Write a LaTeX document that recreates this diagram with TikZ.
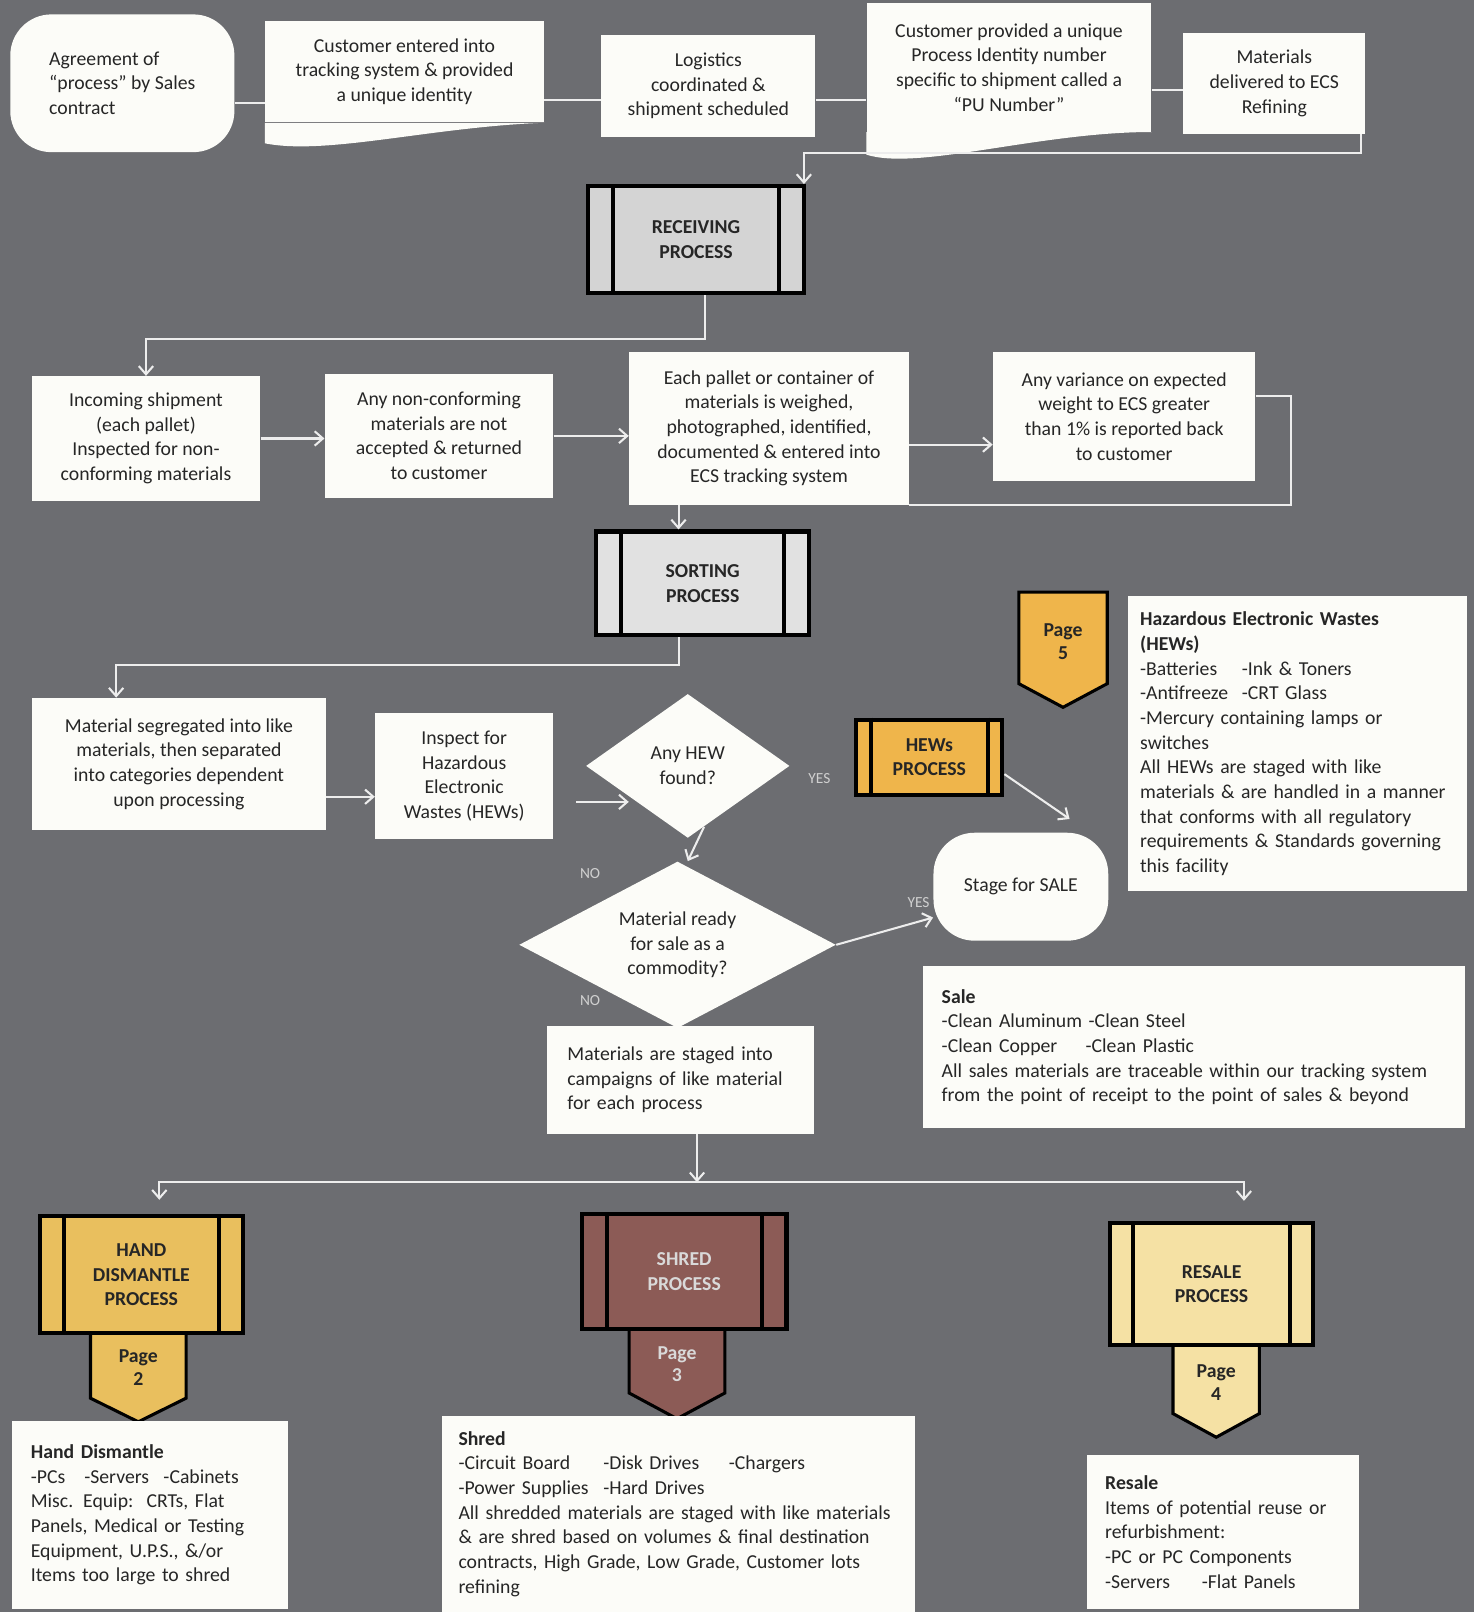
\documentclass[tikz,border=0pt]{standalone}
\usepackage{fontspec}
\setmainfont{Carlito}
\usetikzlibrary{arrows.meta,shapes.geometric}
\definecolor{bggray}{HTML}{6C6D71}
\definecolor{boxwhite}{HTML}{FCFCF8}
\definecolor{recvgray}{HTML}{D4D4D4}
\definecolor{sortgray}{HTML}{E1E1E1}
\definecolor{hewsorange}{HTML}{EFB54B}
\definecolor{handgold}{HTML}{E9BF5E}
\definecolor{shredbrown}{HTML}{8C5B56}
\definecolor{resaleyellow}{HTML}{F5E1A4}
\definecolor{linewhite}{HTML}{EDEDED}
\definecolor{answergray}{HTML}{D0D0D0}

\begin{document}
\begin{tikzpicture}[x=0.5pt,y=-0.5pt,
    >={Straight Barb[length=4pt,width=7pt]},
    every node/.style={font=\fontsize{9.6}{12}\selectfont, text=black!85},
    box/.style={fill=boxwhite, inner sep=0pt, align=center},
    terminal/.style={box, rounded corners=20pt},
    textbox/.style={fill=boxwhite, inner ysep=0pt, inner xsep=9pt, align=left, execute at begin node={\hyphenpenalty=10000\relax}},
    decision/.style={diamond, fill=boxwhite, inner sep=0pt, align=center},
    process/.style={draw=black, line width=2pt, inner sep=0pt, align=center, font=\fontsize{9.6}{12}\selectfont\bfseries},
    procline/.style={line width=2pt},
    pagebox/.style={draw=black, line width=1.5pt},
    pagetext/.style={align=center, font=\fontsize{9.6}{11}\selectfont\bfseries},
    link/.style={draw=linewhite, line width=1pt},
    answer/.style={text=answergray, font=\fontsize{7.5}{9}\selectfont}]

        \useasboundingbox (0,0) rectangle (1434,1568);
        \fill[bggray] (0,0) rectangle (1434,1568);

        \node[terminal, align=left, minimum width=109pt, minimum height=67pt] (agreement) at (119,81) {Agreement of\\“process” by Sales\\contract};
        \node[box, minimum width=135.5pt, minimum height=49.5pt] (entered) at (393.5,69.5) {Customer entered into\\tracking system \& provided\\a unique identity};
        \fill[boxwhite] (entered.south west) -- ++(0,20) .. controls +(60,12) and +(-110,4) .. (entered.south east) -- cycle;
        \node[box, minimum width=104pt, minimum height=49.5pt] (logistics) at (689,83.5) {Logistics\\coordinated \&\\shipment scheduled};
        \node[box, minimum width=138.5pt, minimum height=62.5pt] (puNumber) at (981.5,65.5) {Customer provided a unique\\Process Identity number\\specific to shipment called a\\“PU Number”};
        \fill[boxwhite] (puNumber.south west) -- ++(0,22) .. controls +(50,16) and +(-110,0) .. (puNumber.south east) -- cycle;
        \node[box, minimum width=88.5pt, minimum height=49pt] (delivered) at (1239.5,81) {Materials\\delivered to ECS\\Refining};

        \node[process, fill=recvgray, minimum width=105pt, minimum height=52pt] (recv) at (677,233) {RECEIVING\\PROCESS};

        \node[box, minimum width=111pt, minimum height=60.5pt] (incoming) at (142,426.5) {Incoming shipment\\(each pallet)\\Inspected for non-\\conforming materials};
        \node[box, minimum width=111pt, minimum height=60pt] (nonconf) at (427,424) {Any non-conforming\\materials are not\\accepted \& returned\\to customer};
        \node[box, minimum width=136pt, minimum height=74.5pt] (pallet) at (748,416.5) {Each pallet or container of\\materials is weighed,\\photographed, identified,\\documented \& entered into\\ECS tracking system};
        \node[box, minimum width=127.5pt, minimum height=63pt] (variance) at (1093.5,405) {Any variance on expected\\weight to ECS greater\\than 1\% is reported back\\to customer};

        \node[process, fill=sortgray, minimum width=103.5pt, minimum height=50.5pt] (sort) at (683.5,567.5) {SORTING\\PROCESS};

        \node[box, minimum width=143pt, minimum height=64pt] (seg) at (174,743) {Material segregated into like\\materials, then separated\\into categories dependent\\upon processing};
        \node[box, minimum width=86.5pt, minimum height=61pt] (inspect) at (451.5,755) {Inspect for\\Hazardous\\Electronic\\Wastes (HEWs)};
        \node[decision, minimum width=99pt, minimum height=70pt, aspect=1.4] (hew) at (669,745) {Any HEW\\found?};
        \node[decision, minimum width=154pt, minimum height=81pt, aspect=2] (ready) at (659,919) {Material ready\\for sale as a\\commodity?};
        \node[process, fill=hewsorange, minimum width=71pt, minimum height=36.5pt] (hews) at (904,736.5) {HEWs\\PROCESS};
        \node[terminal, minimum width=85pt, minimum height=52.5pt] (stage) at (993,862.5) {Stage for SALE};
        \node[box, align=left, minimum width=130pt, minimum height=52.5pt, text width=110pt] (staged) at (662,1050.5) {Materials are staged into\\campaigns of like material\\for each process};

        \draw[pagebox, fill=hewsorange] (991,576) -- (1077,576) -- (1077,665) -- (1034,688) -- (991,665) -- cycle;
        \node[pagetext] (page5) at (1034,624) {Page\\5};

        \node[textbox, inner xsep=6pt, text width=153pt, minimum height=143.5pt] (hewNote) at (1262,723.5) {\textbf{Hazardous Electronic Wastes}\\\textbf{(HEWs)}\\\makebox[49.5pt][l]{-Batteries}-Ink \& Toners\\\makebox[49.5pt][l]{-Antifreeze}-CRT Glass\\-Mercury containing lamps or\\switches\\All HEWs are staged with like\\materials \& are handled in a manner\\that conforms with all regulatory\\requirements \& Standards governing\\this facility};
        \node[textbox, text width=245.5pt, minimum height=78.5pt] (saleNote) at (1161.5,1018.5) {\textbf{Sale}\\-Clean Aluminum -Clean Steel\\\makebox[70pt][l]{-Clean Copper}-Clean Plastic\\All sales materials are traceable within our tracking system\\from the point of receipt to the point of sales \& beyond};

        \draw[pagebox, fill=handgold] (88,1297) -- (181,1297) -- (181,1360) -- (134.5,1383) -- (88,1360) -- cycle;
        \draw[pagebox, fill=shredbrown] (612,1293) -- (705,1293) -- (705,1355) -- (658.5,1380) -- (612,1355) -- cycle;
        \draw[pagebox, fill=resaleyellow] (1141,1308) -- (1225,1308) -- (1225,1375) -- (1183,1398) -- (1141,1375) -- cycle;
        \node[pagetext] (page2) at (134.5,1330) {Page\\2};
        \node[pagetext, text=black!15] (page3) at (658.5,1327) {Page\\3};
        \node[pagetext] (page4) at (1183,1345) {Page\\4};

        \node[process, fill=handgold, minimum width=98.5pt, minimum height=57pt] (hand) at (137.5,1240) {HAND\\DISMANTLE\\PROCESS};
        \node[process, fill=shredbrown, text=black!15, minimum width=99.5pt, minimum height=56pt] (shred) at (665.5,1237) {SHRED\\PROCESS};
        \node[process, fill=resaleyellow, minimum width=98.5pt, minimum height=59pt] (resale) at (1178.5,1249) {RESALE\\PROCESS};

        \node[textbox, text width=116pt, minimum height=91.5pt] (handNote) at (146,1473.5) {\textbf{Hand Dismantle}\\\makebox[26pt][l]{-PCs}\makebox[38.5pt][l]{-Servers}-Cabinets\\Misc. Equip:\ \ CRTs, Flat\\Panels, Medical or Testing\\Equipment, U.P.S., \&/or\\Items too large to shred};
        \node[textbox, inner xsep=8pt, text width=214pt, minimum height=95.5pt] (shredNote) at (660,1472.5) {\textbf{Shred}\\\makebox[70.5pt][l]{-Circuit Board}\makebox[61pt][l]{-Disk Drives}-Chargers\\\makebox[70.5pt][l]{-Power Supplies}-Hard Drives\\All shredded materials are staged with like materials\\\& are shred based on volumes \& final destination\\contracts, High Grade, Low Grade, Customer lots\\refining};
        \node[textbox, text width=114.5pt, minimum height=75pt] (resaleNote) at (1189.5,1490) {\textbf{Resale}\\Items of potential reuse or\\refurbishment:\\-PC or PC Components\\\makebox[47pt][l]{-Servers}-Flat Panels};

        \foreach \n/\d in {recv/13pt, sort/13pt, hews/8pt, hand/12.5pt, shred/13pt, resale/12pt}
            \draw[procline] ([xshift=\d]\n.north west) -- ([xshift=\d]\n.south west)
                ([xshift=-\d]\n.north east) -- ([xshift=-\d]\n.south east);

        \draw[link] ([yshift=-9.5pt]agreement.east) -- ([yshift=-9.5pt]agreement.east -| entered.west);
        \draw[link] ([yshift=-13.75pt]entered.east) -- ([yshift=-13.75pt]entered.east -| logistics.west);
        \draw[link] ([yshift=-6.75pt]logistics.east) -- ([yshift=-6.75pt]logistics.east -| puNumber.west);
        \draw[link] ([yshift=-3.5pt]delivered.west) -- ([yshift=-3.5pt]delivered.west -| puNumber.east);
        \draw[link,->] ([xshift=-2.5pt]delivered.south east) -- ++(0,18) -| ([xshift=-1pt]recv.north east);
        \draw[link,->] ([xshift=4.5pt]recv.south) -- ++(0,43) -| (incoming.north);

        \draw[link,->] (incoming.east) -- (incoming.east -| nonconf.west);
        \draw[link,->] (nonconf.east) -- (nonconf.east -| pallet.west);
        \draw[link,->] ([yshift=-8pt]pallet.east) -- ([yshift=-8pt]pallet.east -| variance.west);
        \draw[link] ([yshift=10pt]variance.east) -- ++(34,0) |- (pallet.south east);
        \draw[link,->] ([xshift=-44pt]pallet.south) -- ([xshift=-44pt]pallet.south |- sort.north);
        \draw[link,->] ([xshift=-11.75pt]sort.south) -- ++(0,27) -| ([xshift=-30.5pt]seg.north);

        \draw[link,->] ([yshift=-16pt]seg.east) -- ([yshift=-16pt]seg.east -| inspect.west);
        \draw[link,->,shorten <=11pt,shorten >=-21pt] ([yshift=-12.5pt]inspect.east) -- ([yshift=-12.5pt]inspect.east -| hew.west);
        \draw[link,->] (hew.-75) -- ([xshift=5pt]ready.north);
        \draw[link,->] ([yshift=11pt]hews.south east) -- ([xshift=-19pt,yshift=6.5pt]stage.north east);
        \draw[link,->] (ready.east) -- node[answer, pos=0.85, above=3pt] (yesSale) {YES} ([yshift=-15pt]stage.west);
        \node[answer] (yesHew) at (797,757) {YES};
        \node[answer] (noHew) at (574,850) {NO};
        \node[answer] (noReady) at (574,973) {NO};

        \coordinate (split) at (678,1150);
        \draw[link,->] (staged.south -| split) -- (split);
        \draw[link,->] (split) -| ([xshift=8.75pt,yshift=7pt]hand.north);
        \draw[link,->] (split) -| ([xshift=15.75pt,yshift=10pt]resale.north);
    \end{tikzpicture}
\end{document}
